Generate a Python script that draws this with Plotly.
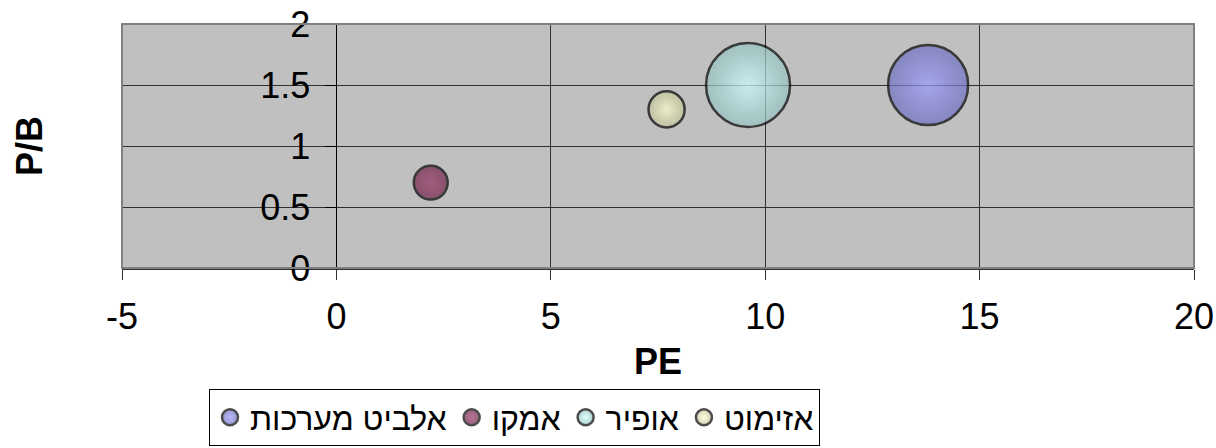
import plotly.graph_objects as go

# ---- data ----
companies = ["אלביט מערכות", "אמקו", "אופיר", "אזימוט"]
pe = [13.8, 2.2, 9.6, 7.7]
pb = [1.5, 0.7, 1.5, 1.3]
bubble_size = [6400, 1150, 7050, 1300]

x_ticks = [-5, 0, 5, 10, 15, 20]
y_ticks = [0, 0.5, 1, 1.5, 2]
x_range = [-5, 20]
y_range = [0, 2]
x_title = "PE"
y_title = "P/B"

# ---- style ----
colors = ["#9999FF", "#993366", "#CCFFFF", "#FFFFCC"]
edge_colors = ["#6E6EC0", "#6E2248", "#94BFBF", "#BFBF96"]
FONT = "Liberation Sans, Arial, DejaVu Sans, sans-serif"
W, H = 1216, 448
ML, MR, MT, MB = 122, 22, 24, 180
max_diam = 84
sizeref = 2.0 * max(bubble_size) / (max_diam ** 2)

fig = go.Figure()
for name, x, y, s, c, ec in zip(companies, pe, pb, bubble_size, colors, edge_colors):
    fig.add_trace(go.Scatter(
        x=[x], y=[y], mode="markers", name=name,
        marker=dict(size=[s], sizemode="area", sizeref=sizeref,
                    color=ec, gradient=dict(type="radial", color=c),
                    line=dict(color="black", width=2.5)),
        hoverinfo="x+y+name",
    ))

# y axis crosses at x = 0
y_pos = (0 - x_range[0]) / (x_range[1] - x_range[0])
PW = W - ML - MR
PH = H - MT - MB

fig.update_layout(
    width=W, height=H,
    margin=dict(l=ML, r=MR, t=MT, b=MB, pad=0, autoexpand=False),
    paper_bgcolor="white",
    plot_bgcolor="#C0C0C0",
    font=dict(family=FONT, size=36, color="black"),
    xaxis=dict(
        range=x_range, tickvals=x_ticks, ticktext=[str(v) for v in x_ticks],
        automargin=False,
        showgrid=True, gridcolor="#303030", gridwidth=1,
        zeroline=False,
        showline=True, linecolor="#333333", linewidth=2,
        ticks="outside", ticklen=10, tickcolor="#333333", tickwidth=1,
        ticklabelstandoff=6,
        tickfont=dict(size=36),
        title=dict(text="<b>%s</b>" % x_title, font=dict(size=36), standoff=13),
        fixedrange=True,
    ),
    yaxis=dict(
        range=y_range, tickvals=y_ticks, ticktext=[("%g" % v) for v in y_ticks],
        automargin=False,
        anchor="free", position=y_pos,
        showgrid=True, gridcolor="#303030", gridwidth=1,
        zeroline=False,
        showline=True, linecolor="black", linewidth=1,
        ticks="outside", ticklen=11, tickcolor="black", tickwidth=1,
        ticklabelstandoff=8,
        tickfont=dict(size=36),
        fixedrange=True,
    ),
    showlegend=True,
    legend=dict(
        orientation="h",
        x=(209 - ML) / PW, xanchor="left",
        y=(H - MB - 446) / PH, yanchor="bottom",
        bordercolor="black", borderwidth=1, bgcolor="white",
        font=dict(size=32, family=FONT),
        itemclick=False, itemdoubleclick=False,
    ),
    annotations=[dict(
        text="<b>%s</b>" % y_title, textangle=-90,
        xref="paper", yref="paper",
        x=(29 - ML) / PW, y=0.5,
        xanchor="center", yanchor="middle",
        showarrow=False, font=dict(size=36, family=FONT),
    )],
    shapes=[dict(
        type="rect", xref="paper", yref="paper", x0=0, y0=0, x1=1, y1=1,
        line=dict(color="#808080", width=2), fillcolor="rgba(0,0,0,0)",
        layer="above",
    )],
)

fig.write_html("out.html")
